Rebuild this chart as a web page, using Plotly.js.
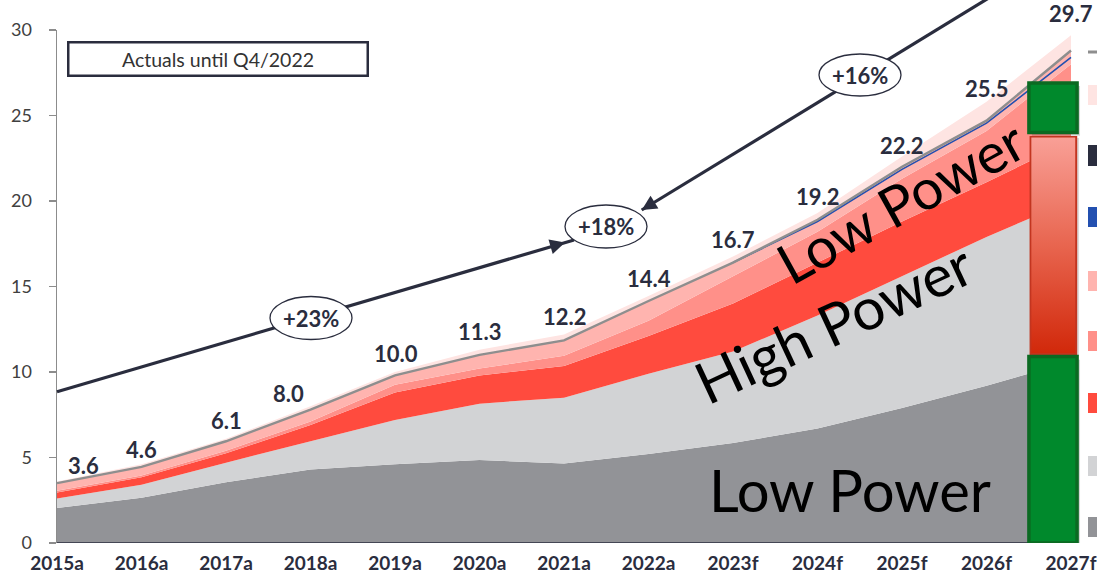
<!DOCTYPE html>
<html>
<head>
<meta charset="utf-8">
<script src="https://cdn.plot.ly/plotly-3.0.1.min.js"></script>
<style>
html,body{margin:0;padding:0;background:#ffffff;}
#chart{width:1097px;height:577px;}
</style>
</head>
<body>
<div id="chart"></div>
<script>
// ---------------- data ----------------
const years = ['2015a','2016a','2017a','2018a','2019a','2020a','2021a','2022a','2023f','2024f','2025f','2026f','2027f'];
const lowPowerBase = [2.05, 2.65, 3.55, 4.30, 4.60, 4.85, 4.65, 5.20, 5.85, 6.70, 7.90, 9.20, 10.60];
const lightGraySeg = [0.55, 0.75, 1.15, 1.65, 2.60, 3.30, 3.85, 4.70, 5.35, 6.60, 7.70, 8.70, 9.40];
const redSeg       = [0.35, 0.45, 0.55, 0.95, 1.60, 1.65, 1.85, 2.20, 2.80, 3.10, 3.20, 3.20, 3.50];
const salmonSeg    = [0.10, 0.10, 0.15, 0.20, 0.45, 0.40, 0.60, 0.90, 1.60, 1.80, 2.50, 3.00, 4.50];
const pinkSeg      = [0.45, 0.50, 0.55, 0.70, 0.55, 0.80, 0.90, 1.15, 0.80, 0.70, 0.70, 0.60, 0.80];
const upperSeg     = [0.10, 0.15, 0.15, 0.20, 0.20, 0.30, 0.35, 0.30, 0.35, 0.40, 0.60, 1.10, 0.90];
const forecastLine = [null, null, null, null, null, null, null, null, 16.40, 18.80, 21.85, 24.55, 28.40];
const totals       = [3.6, 4.6, 6.1, 8.0, 10.0, 11.3, 12.2, 14.4, 16.7, 19.2, 22.2, 25.5, 29.7];
const cagrTexts    = ['+23%', '+18%', '+16%'];
// range bar at 2027f: [bottom, top] of each segment
const barLowGreen  = [0, 10.9];
const barRedRange  = [10.9, 23.8];
const barTopGreen  = [24.0, 26.9];

// ---------------- styles / layout helpers ----------------
const FONT = 'Lato, "Open Sans", sans-serif';
const NAVY = '#2a2d3e';
const C = {
  dg:'#929397', lg:'#d2d3d5', red:'#ff4b3e', salmon:'#ff9089', pink:'#ffb4af',
  upper:'#fee4e2', grayLine:'#8e8e8e', blue:'#2350b0', green:'#00892c', greenEdge:'#0b6a22'
};
// plot area: left 57px, top 30px, width 1040px, height 513px
const L = 57, T = 30, W = 1040, H = 513, STEP = 84.5;
const PX = p => (p - L) / W;
const PY = p => (T + H - p) / H;

const xs = years.map((_, i) => i);
function cum(arrs){ const out=[]; let run=xs.map(()=>0); arrs.forEach(a=>{ run=run.map((v,i)=>v+a[i]); out.push(run.slice()); }); return out; }
const tops = cum([lowPowerBase, lightGraySeg, redSeg, salmonSeg, pinkSeg, upperSeg]);

function area(y, color, fill){
  return {x: xs, y: y, type:'scatter', mode:'lines', line:{width:0, color:color}, fill:fill, fillcolor:color, hoverinfo:'skip'};
}
const traces = [
  area(tops[0], C.dg, 'tozeroy'),
  area(tops[1], C.lg, 'tonexty'),
  area(tops[2], C.red, 'tonexty'),
  area(tops[3], C.salmon, 'tonexty'),
  area(tops[4], C.pink, 'tonexty'),
  area(tops[5], C.upper, 'tonexty'),
  {x: xs, y: forecastLine, type:'scatter', mode:'lines', line:{color:C.blue, width:1.6}, hoverinfo:'skip'},
  {x: xs, y: tops[4], type:'scatter', mode:'lines', line:{color:C.grayLine, width:2.4}, hoverinfo:'skip'}
];

// value labels
const labelDx = [26, 0, 0, -22, 1, 0, 1, 0, 0, 0, 0, 0, 0];
const labelDy = [16, 15, 18, 13, 19, 18, 18, 18, 18, 18, 18, 18, 22];
const annotations = totals.map((v, i) => ({
  x: i, y: v, xref:'x', yref:'y', text: v.toFixed(1), showarrow:false,
  xanchor:'center', yanchor:'middle', xshift: labelDx[i], yshift: labelDy[i],
  font:{family:FONT, size:22, color:NAVY, weight:'bold'}
}));

// CAGR ellipses (pixel centers)
const ellipses = [[311, 318, 82, 43], [606, 226.5, 82, 43], [860, 75, 82, 42]];
const shapes = [];
// CAGR line segments
shapes.push({type:'line', xref:'paper', yref:'paper', x0:PX(57), y0:PY(391.7), x1:PX(574), y1:PY(240), line:{color:NAVY, width:3.2}, layer:'above'});
shapes.push({type:'line', xref:'paper', yref:'paper', x0:PX(641.7), y0:PY(210), x1:PX(992), y1:PY(-4), line:{color:NAVY, width:3.2}, layer:'above'});
ellipses.forEach((e, k) => {
  shapes.push({type:'circle', xref:'paper', yref:'paper', x0:PX(e[0]-e[2]/2), x1:PX(e[0]+e[2]/2), y0:PY(e[1]+e[3]/2), y1:PY(e[1]-e[3]/2),
    fillcolor:'#ffffff', line:{color:NAVY, width:1.3}, layer:'above'});
  annotations.push({x:PX(e[0]), y:PY(e[1]), xref:'paper', yref:'paper', text:cagrTexts[k], showarrow:false,
    xanchor:'center', yanchor:'middle', font:{family:FONT, size:22, color:NAVY, weight:'bold'}});
});
// arrowheads
annotations.push({x:PX(565), y:PY(242.5), xref:'paper', yref:'paper', text:'', showarrow:true, ax:-15, ay:4.4,
  arrowhead:2, arrowsize:1, arrowwidth:3, arrowcolor:NAVY, standoff:0, startstandoff:0});
annotations.push({x:PX(641.7), y:PY(210), xref:'paper', yref:'paper', text:'', showarrow:true, ax:13, ay:-8,
  arrowhead:2, arrowsize:1, arrowwidth:3, arrowcolor:NAVY, standoff:0, startstandoff:0});

// x axis baseline (ends at last category)
shapes.push({type:'line', xref:'x', yref:'y', x0:0, x1:years.length-1, y0:0, y1:0, line:{color:NAVY, width:1.6}, layer:'above'});

// range bar at 2027f (soft shadows behind the green parts)
const barX = years.length - 1 - 0.213, barW = 0.57;
const shX = 0.035, shY = 0.18;
[[barLowGreen[0], barLowGreen[1]], [barTopGreen[0], barTopGreen[1]]].forEach(seg => {
  shapes.push({type:'rect', xref:'x', yref:'y', x0:barX-barW/2+shX, x1:barX+barW/2+shX, y0:seg[0]-shY, y1:seg[1]-shY,
    fillcolor:'rgba(0,0,0,0.16)', line:{width:0}, layer:'above'});
});
shapes.push({type:'rect', xref:'x', yref:'y', x0:barX-barW/2, x1:barX+barW/2, y0:barLowGreen[0], y1:barLowGreen[1],
  fillcolor:C.green, line:{color:C.greenEdge, width:3.5}, layer:'above'});
shapes.push({type:'rect', xref:'x', yref:'y', x0:barX-barW/2, x1:barX+barW/2, y0:barTopGreen[0], y1:barTopGreen[1],
  fillcolor:C.green, line:{color:C.greenEdge, width:3.5}, layer:'above'});
const gradSvg = "<svg xmlns='http://www.w3.org/2000/svg' width='50' height='222' viewBox='0 0 50 222' preserveAspectRatio='none'>" +
  "<defs><linearGradient id='g' x1='0' y1='0' x2='0' y2='1'><stop offset='0' stop-color='#f9a097'/><stop offset='0.5' stop-color='#e8654f'/><stop offset='1' stop-color='#d1280a'/></linearGradient></defs>" +
  "<rect x='3' y='2' width='47' height='220' fill='rgba(0,0,0,0.14)'/>" +
  "<rect x='1' y='0.5' width='46' height='219' fill='url(#g)' stroke='#c23520' stroke-width='2'/></svg>";
const images = [{source:'data:image/svg+xml;charset=utf-8,' + encodeURIComponent(gradSvg), xref:'x', yref:'y',
  x: barX - barW/2 + 0.005, y: barRedRange[1], sizex: barW + 0.02, sizey: barRedRange[1]-barRedRange[0],
  sizing:'stretch', xanchor:'left', yanchor:'top', layer:'above'}];

// legend swatches (cut at right edge)
const swatches = [[52, 52, '#8e8e8e', 3], [85, 105, C.upper], [145, 166, NAVY], [207, 227, C.blue], [271, 291, C.pink],
  [331, 351, C.salmon], [393, 413, C.red], [456, 476, C.lg], [517, 537, C.dg]];
swatches.forEach(s => {
  if (s[3]) {
    shapes.push({type:'line', xref:'paper', yref:'paper', x0:PX(1088), x1:PX(1100), y0:PY(s[0]), y1:PY(s[0]), line:{color:s[2], width:s[3]}});
  } else {
    shapes.push({type:'rect', xref:'paper', yref:'paper', x0:PX(1088), x1:PX(1100), y0:PY(s[1]), y1:PY(s[0]), fillcolor:s[2], line:{width:0}});
  }
});

// big area labels
annotations.push({x:PX(850), y:PY(489), xref:'paper', yref:'paper', text:'Low Power', showarrow:false,
  font:{family:FONT, size:58, color:'#000000'}, xanchor:'center', yanchor:'middle'});
annotations.push({x:PX(833), y:PY(322), xref:'paper', yref:'paper', text:'High Power', showarrow:false, textangle:-25,
  font:{family:FONT, size:58, color:'#000000'}, xanchor:'center', yanchor:'middle'});
annotations.push({x:PX(900), y:PY(201), xref:'paper', yref:'paper', text:'Low Power', showarrow:false, textangle:-29,
  font:{family:FONT, size:56, color:'#000000'}, xanchor:'center', yanchor:'middle'});

// actuals box
annotations.push({x:PX(217.5), y:PY(58.5), xref:'paper', yref:'paper', text:'Actuals until Q4/2022', showarrow:false,
  width:297, height:31, borderwidth:2.5, bordercolor:NAVY, borderpad:0, bgcolor:'#ffffff',
  font:{family:FONT, size:19.5, color:'#333333'}, xanchor:'center', yanchor:'middle'});

const layout = {
  width:1097, height:577,
  margin:{l:L, r:1097-L-W, t:T, b:577-T-H, pad:0},
  paper_bgcolor:'#ffffff', plot_bgcolor:'rgba(0,0,0,0)',
  showlegend:false,
  xaxis:{range:[0, W/STEP], tickvals:xs, ticktext:years, showline:false, ticks:'', showgrid:false, zeroline:false,
    tickfont:{family:FONT, size:19, color:NAVY, weight:'bold'}, ticklabelstandoff:7, fixedrange:true},
  yaxis:{range:[0,30], tickvals:[0,5,10,15,20,25,30], ticks:'outside', ticklen:7, tickwidth:1.5, tickcolor:'#8c8c8c',
    showline:true, linecolor:'#8c8c8c', linewidth:1.5, showgrid:false, zeroline:false,
    tickfont:{family:FONT, size:18, color:'#404040'}, ticklabelstandoff:13, fixedrange:true},
  shapes: shapes, annotations: annotations, images: images
};
Plotly.newPlot('chart', traces, layout, {displayModeBar:false, staticPlot:true});
</script>
</body>
</html>
